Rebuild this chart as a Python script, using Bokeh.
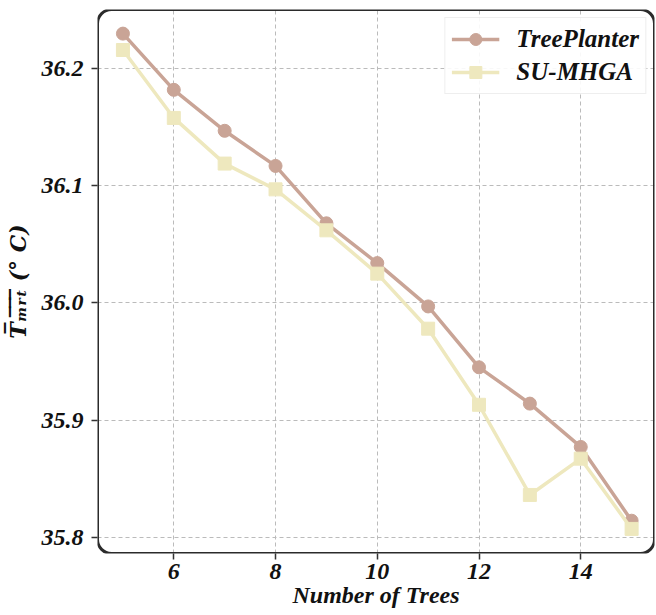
from bokeh.plotting import figure
from bokeh.models import Range1d, FixedTicker, BoxAnnotation, Legend, LegendItem, PrintfTickFormatter
from bokeh.embed import file_html
from bokeh.resources import INLINE

trees = [5, 6, 7, 8, 9, 10, 11, 12, 13, 14, 15]
treeplanter = [36.230, 36.182, 36.147, 36.117, 36.068, 36.034, 35.997, 35.945, 35.914, 35.877, 35.814]
su_mhga = [36.216, 36.158, 36.119, 36.097, 36.062, 36.025, 35.978, 35.913, 35.836, 35.867, 35.807]
x_ticks = [6, 8, 10, 12, 14]
y_ticks = [35.8, 35.9, 36.0, 36.1, 36.2]

FONT = "Liberation Serif"
C_TP = "#C9A496"
C_SU = "#EEE8BE"

x0, x1 = 4.5, 15.45
y0, y1 = 35.786, 36.2506

p = figure(width=656, height=615, output_backend="svg", toolbar_location=None,
           x_range=Range1d(x0, x1), y_range=Range1d(y0, y1),
           min_border_left=97, min_border_right=2, min_border_top=9, min_border_bottom=62)
p.outline_line_color = None
p.background_fill_color = "white"
p.border_fill_color = "white"

r1 = p.line(trees, treeplanter, line_color=C_TP, line_width=3.5)
m1 = p.scatter(trees, treeplanter, marker="circle", size=13, fill_color=C_TP, line_color=C_TP)
r2 = p.line(trees, su_mhga, line_color=C_SU, line_width=3.5)
m2 = p.scatter(trees, su_mhga, marker="square", size=13, fill_color=C_SU, line_color=C_SU)

for ax in (p.xaxis[0], p.yaxis[0]):
    ax.axis_line_color = None
    ax.major_tick_out = 6
    ax.major_tick_in = 0
    ax.major_tick_line_color = "#333333"
    ax.major_tick_line_width = 1.5
    ax.minor_tick_line_color = None
    ax.major_label_text_font = FONT
    ax.major_label_text_font_style = "bold italic"
    ax.major_label_text_font_size = "24px"
    ax.major_label_text_color = "#111111"
    ax.axis_label_text_font = FONT
    ax.axis_label_text_font_style = "bold italic"
    ax.axis_label_text_font_size = "24px"
    ax.axis_label_text_color = "#111111"

p.xaxis[0].ticker = FixedTicker(ticks=x_ticks)
p.yaxis[0].ticker = FixedTicker(ticks=y_ticks)
p.yaxis[0].formatter = PrintfTickFormatter(format="%.1f")
p.xaxis[0].axis_label = "Number of Trees"
p.yaxis[0].axis_label = "T\u0305\u2098\u0305\u1d63\u0305\u209c\u0305 (\u00b0 C)"
p.yaxis[0].axis_label_text_font = "DejaVu Serif"
p.yaxis[0].axis_label_text_font_size = "22px"
p.xaxis[0].major_label_standoff = 4
p.yaxis[0].major_label_standoff = 8
p.xaxis[0].axis_label_standoff = 0
p.yaxis[0].axis_label_standoff = 8

for g in (p.xgrid[0], p.ygrid[0]):
    g.grid_line_color = "#bbbbbb"
    g.grid_line_dash = "4 3"
    g.grid_line_width = 1

frame_box = BoxAnnotation(left=x0, right=x1, bottom=y0, top=y1,
                          fill_alpha=0, line_color="#2b2b2b", line_alpha=1.0, line_width=3,
                          border_radius=14, level="overlay")
p.add_layout(frame_box)

legend = Legend(items=[LegendItem(label="TreePlanter", renderers=[r1, m1]),
                       LegendItem(label="SU-MHGA", renderers=[r2, m2])],
                location="top_right")
legend.label_text_font = FONT
legend.label_text_font_style = "bold italic"
legend.label_text_font_size = "25px"
legend.label_text_color = "#111111"
legend.glyph_width = 48
legend.glyph_height = 30
legend.label_standoff = 17
legend.spacing = 3
legend.padding = 6
legend.margin = 8
legend.border_line_color = "#dddddd"
legend.border_line_width = 1.5
legend.background_fill_alpha = 0.9
p.add_layout(legend)

open("out.html", "w").write(file_html(p, INLINE))
